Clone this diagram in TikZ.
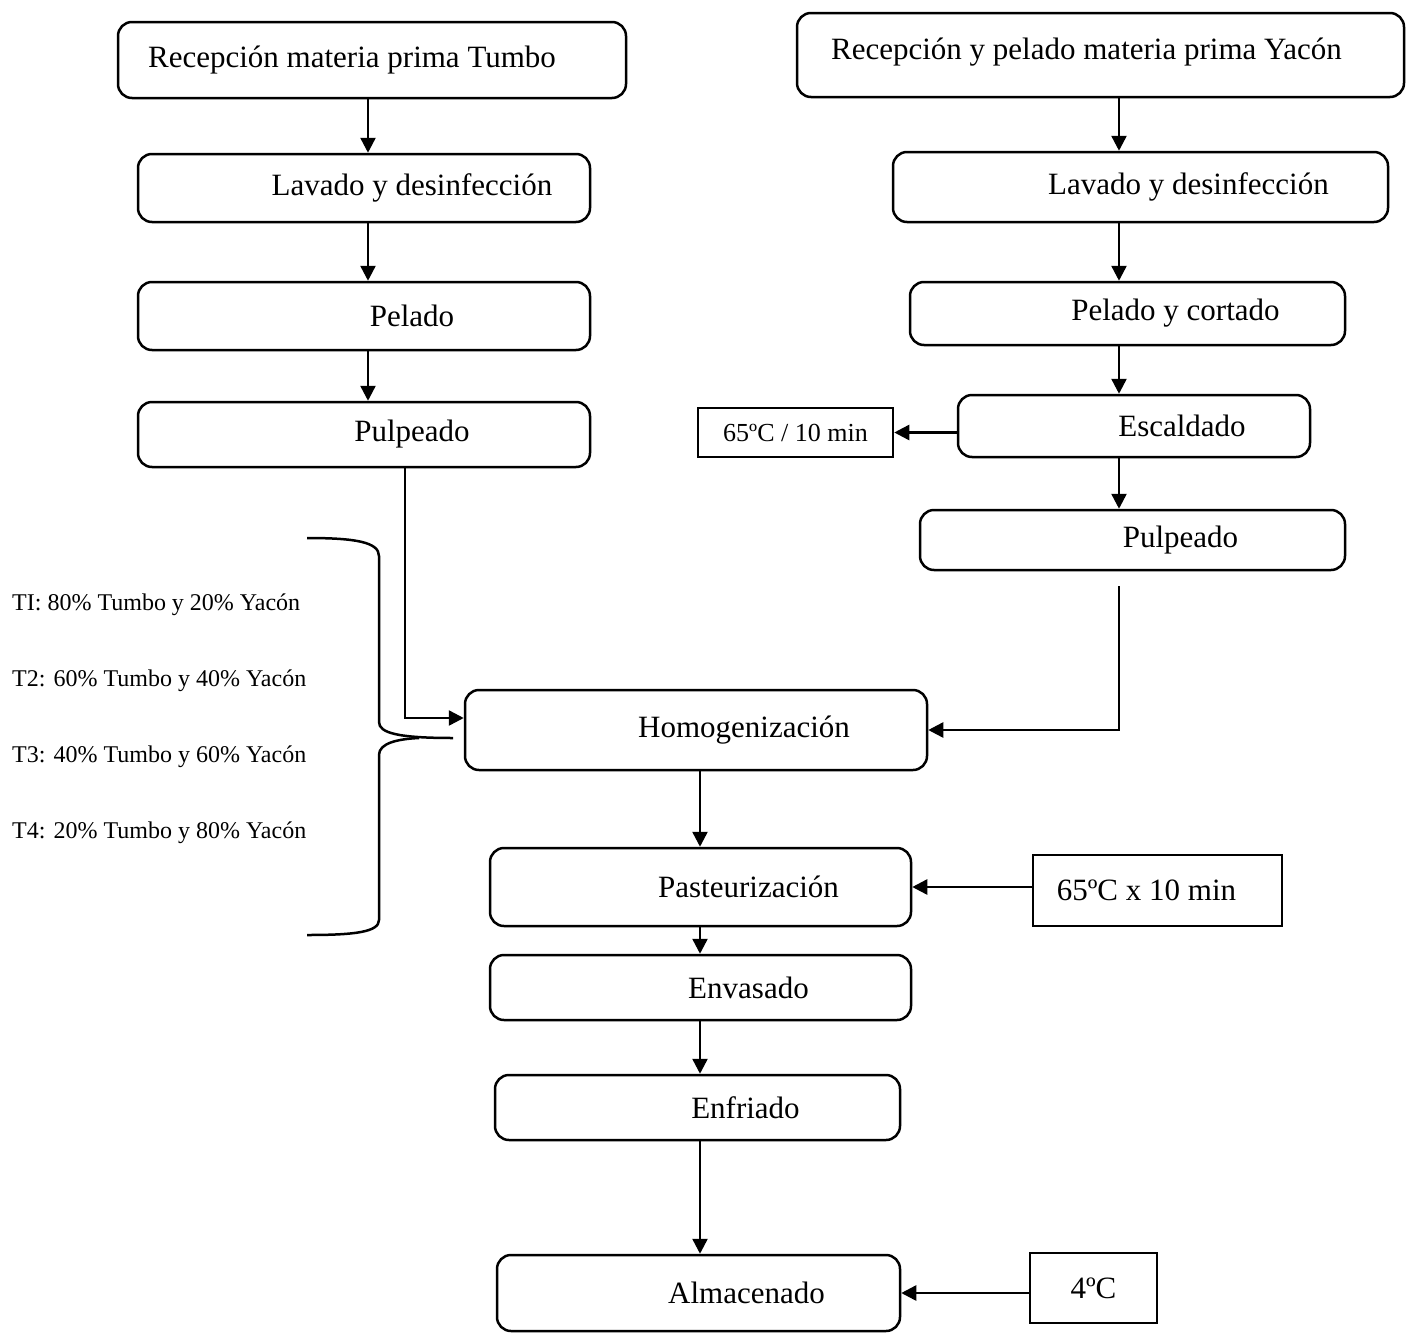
\documentclass[tikz,border=0pt]{standalone}
\usepackage{fontspec}
\setmainfont{Liberation Serif}
\usetikzlibrary{arrows.meta}
\newcommand{\bigsz}{\fontsize{31}{36}\selectfont}
\newcommand{\midsz}{\fontsize{26}{30}\selectfont}
\newcommand{\smallsz}{\fontsize{24}{28}\selectfont}
\tikzset{
  stepbox/.style={draw, rounded corners=14pt, line width=2.5pt, inner sep=0pt, font=\bigsz},
  tabbed/.style={execute at begin node={\hspace*{96pt}}},
  condbox/.style={draw, line width=2.5pt, inner sep=0pt},
  arr/.style={line width=2.5pt, -{Triangle[length=15pt,width=15pt]}},
  brace/.style={line width=2.5pt},
  mix/.style={anchor=west, inner sep=0pt, font=\smallsz}
}
\begin{document}
\begin{tikzpicture}[x=1pt, y=-1pt]
\useasboundingbox (0,0) rectangle (1406,1333);
\coordinate (colL) at (368,0);
\coordinate (colR) at (1119,0);
\coordinate (colM) at (700,0);
\coordinate (joinT) at (405,0);

% Tumbo
\node[stepbox, minimum width=508pt, minimum height=76pt, execute at end node={\hspace*{40pt}}] (recT) at (372,60) {Recepción materia prima Tumbo};
\node[stepbox, tabbed, minimum width=452pt, minimum height=68pt] (lavT) at (364,188) {Lavado y desinfección};
\node[stepbox, tabbed, minimum width=452pt, minimum height=68pt] (pelT) at (364,316) {Pelado};
\node[stepbox, tabbed, minimum width=452pt, minimum height=65pt] (pulT) at (364,434.5) {Pulpeado};

% Yacon
\node[stepbox, minimum width=607pt, minimum height=84pt, execute at end node={\hspace*{28pt}}] (recY) at (1100.5,55) {\raisebox{12pt}{Recepción y pelado materia prima Yacón}};
\node[stepbox, tabbed, minimum width=495pt, minimum height=70pt] (lavY) at (1140.5,187) {Lavado y desinfección};
\node[stepbox, tabbed, minimum width=435pt, minimum height=63pt] (pelY) at (1127.5,313.5) {Pelado y cortado};
\node[stepbox, tabbed, minimum width=352pt, minimum height=62pt] (esc) at (1134,426) {Escaldado};
\node[condbox, font=\midsz, minimum width=195pt, minimum height=49pt] (escT) at (795.5,432.5) {65ºC / 10 min};
\node[stepbox, tabbed, minimum width=425pt, minimum height=60pt] (pulY) at (1132.5,540) {Pulpeado};

% mezcla
\node[stepbox, tabbed, minimum width=462pt, minimum height=80pt] (homog) at (696,730) {Homogenización};
\node[stepbox, tabbed, minimum width=421pt, minimum height=78pt] (past) at (700.5,887) {Pasteurización};
\node[condbox, font=\bigsz, minimum width=249pt, minimum height=71pt, execute at end node={\hspace*{22pt}}] (pastT) at (1157.5,890.5) {65ºC x 10 min};
\node[stepbox, tabbed, minimum width=421pt, minimum height=65pt] (env) at (700.5,987.5) {Envasado};
\node[stepbox, tabbed, minimum width=405pt, minimum height=65pt] (enf) at (697.5,1107.5) {Enfriado};
\node[stepbox, tabbed, minimum width=403pt, minimum height=76pt] (alm) at (698.5,1293) {Almacenado};
\node[condbox, font=\bigsz, minimum width=127pt, minimum height=70pt] (almT) at (1093.5,1288) {4ºC};

\node[mix] (t1) at (12,605) {TI: 80\% Tumbo y 20\% Yacón};
\node[mix] (t2) at (12,681) {T2: 60\% Tumbo y 40\% Yacón};
\node[mix] (t3) at (12,757) {T3: 40\% Tumbo y 60\% Yacón};
\node[mix] (t4) at (12,833) {T4: 20\% Tumbo y 80\% Yacón};

\draw[arr] (recT.south -| colL) -- (lavT.north -| colL);
\draw[arr] (lavT.south -| colL) -- (pelT.north -| colL);
\draw[arr] (pelT.south -| colL) -- (pulT.north -| colL);

\draw[arr] (recY.south -| colR) -- (lavY.north -| colR);
\draw[arr] (lavY.south -| colR) -- (pelY.north -| colR);
\draw[arr] (pelY.south -| colR) -- (esc.north -| colR);
\draw[arr] (esc.south -| colR) -- (pulY.north -| colR);
\draw[arr] (esc.west |- escT) -- (escT.east);

\draw[arr] (pulT.south -| joinT) |- ([yshift=12pt]homog.west);
\draw[arr] ([yshift=-15pt]pulY.south -| colR) |- (homog.east);

\draw[arr] (homog.south -| colM) -- (past.north -| colM);
\draw[arr] (past.south -| colM) -- (env.north -| colM);
\draw[arr] (env.south -| colM) -- (enf.north -| colM);
\draw[arr] (enf.south -| colM) -- (alm.north -| colM);
\draw[arr] (pastT.west |- past) -- (past.east);
\draw[arr] (almT.west |- alm) -- (alm.east);

% llave
\draw[brace] (307,538) .. controls (355,538) and (379,542) .. (379,556) -- (379,722) .. controls (379,733) and (398,738) .. (453,738);
\draw[brace] (419,738) .. controls (398,739) and (379,743) .. (379,755) -- (379,920) .. controls (379,932) and (355,935) .. (307,935);
\end{tikzpicture}
\end{document}
